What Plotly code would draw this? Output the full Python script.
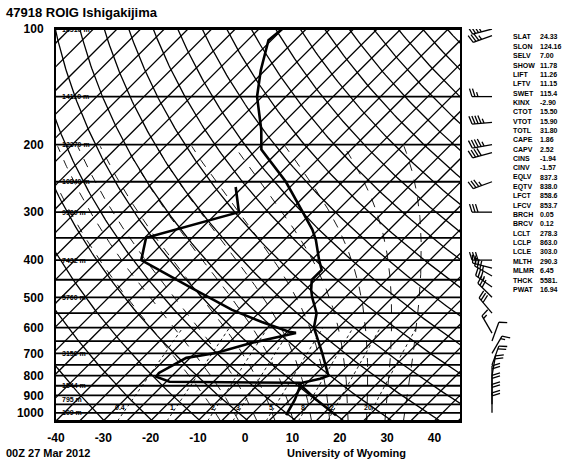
import numpy as np
import plotly.graph_objects as go

# ---------------- data ----------------
station_title = "47918 ROIG Ishigakijima"
date_text = "00Z 27 Mar 2012"
credit_text = "University of Wyoming"

temp_p = [1015, 1000, 925, 850, 838, 815, 800, 700, 650, 600, 550, 500, 478, 450, 424, 400,
          354, 333, 300, 250, 206, 183, 150, 128, 107, 100]
temp_c = [18.0, 16.8, 10.6, 4.4, 3.4, 6.9, 8.0, 2.0, -1.5, -5.2, -7.7, -12.0, -13.8, -15.8, -15.8, -18.4,
          -23.4, -26.3, -32.0, -42.0, -54.0, -58.2, -66.1, -70.9, -75.6, -75.1]

dew_p = [1015, 1000, 925, 870, 850, 838, 835, 830, 805, 787, 719, 698, 657, 619, 615, 580, 539,
         473, 405, 400, 350, 300, 258]
dew_c = [7.5, 7.2, 6.0, 4.8, 4.2, 3.4, 3.3, -24.3, -28.2, -28.4, -25.8, -20.6, -15.1, -7.9, -9.6, -17.4, -26.3,
         -39.4, -54.6, -56.0, -59.7, -45.5, -51.5]

wind_p = [100, 104, 150, 175, 200, 210, 250, 300, 400, 420, 440, 470, 500, 550, 620, 650, 700, 750,
          800, 850, 900, 950, 1000]
wind_dir = [255, 250, 270, 265, 260, 255, 250, 270, 270, 285, 300, 305, 315, 320, 330, 20, 30, 20,
            10, 360, 360, 360, 360]
wind_kt = [35, 35, 25, 45, 45, 40, 35, 30, 30, 25, 35, 35, 30, 30, 15, 10, 15, 20, 20, 20, 20, 20, 20]

p_ticks = [100, 200, 300, 400, 500, 600, 700, 800, 900, 1000]
t_ticks = [-40, -30, -20, -10, 0, 10, 20, 30, 40]

height_p = [100, 150, 200, 250, 300, 400, 500, 700, 850, 925, 1000]
height_lbl = ["16510 m", "14110 m", "12370 m", "10840 m", "9580 m", "7432 m", "5760 m", "3150 m",
              "1544 m", "795 m", "109 m"]

mix_ratios = [0.4, 1, 2, 3, 5, 8, 12, 20]
mix_lbl = ["0.4", "1", "2", "3", "5", "8", "12", "20"]

stat_names = ["SLAT", "SLON", "SELV", "SHOW", "LIFT", "LFTV", "SWET", "KINX", "CTOT", "VTOT", "TOTL",
              "CAPE", "CAPV", "CINS", "CINV", "EQLV", "EQTV", "LFCT", "LFCV", "BRCH", "BRCV", "LCLT",
              "LCLP", "LCLE", "MLTH", "MLMR", "THCK", "PWAT"]
stat_vals = ["24.33", "124.16", "7.00", "11.78", "11.26", "11.15", "115.4", "-2.90", "15.50", "15.90",
             "31.80", "1.86", "2.52", "-1.94", "-1.57", "837.3", "838.0", "858.6", "853.7", "0.05",
             "0.12", "278.3", "863.0", "303.0", "290.3", "6.45", "5581.", "16.94"]

# ---------------- geometry ----------------
W, H = 585, 464
ML, MT = 56, 29
PLOT_W = 404           # px of the skew-T box
P_TOP, P_BOT = 100.0, 1050.0
PX_DEC = 384.0         # px per pressure decade
PLOT_H = PX_DEC * (np.log10(P_BOT) - np.log10(P_TOP))
MB = H - MT - PLOT_H
PX_C = 4.73            # px per deg C
X_MIN = -40.0
X_MAX = X_MIN + PLOT_W / PX_C
SKEW = PX_DEC / PX_C   # deg C per decade -> 45 deg isotherms
AREA_W = W - ML

def skew_x(t, p):
    return np.asarray(t, float) + SKEW * (np.log10(P_BOT) - np.log10(np.asarray(p, float)))

def px_x(px):
    return (px - ML) / AREA_W

def px_y(py):
    return 1 - (py - MT) / PLOT_H

fig = go.Figure()

# isobars
xs, ys = [], []
for p in range(100, 1051, 50):
    xs += [X_MIN, X_MAX, None]
    ys += [p, p, None]
fig.add_trace(go.Scatter(x=xs, y=ys, mode="lines", line=dict(color="black", width=1.8),
                         hoverinfo="skip", showlegend=False))

pp = np.logspace(np.log10(P_BOT), np.log10(P_TOP), 120)

# isotherms
xs, ys = [], []
for t in range(-160, 60, 5):
    xs += [t, t + SKEW * (np.log10(P_BOT) - 2), None]
    ys += [P_BOT, P_TOP, None]
fig.add_trace(go.Scatter(x=xs, y=ys, mode="lines", line=dict(color="black", width=1.3),
                         hoverinfo="skip", showlegend=False))

# dry adiabats
xs, ys = [], []
for th in range(230, 500, 10):
    tt = th * (pp / 1000.0) ** 0.286 - 273.15
    xs += list(skew_x(tt, pp)) + [None]
    ys += list(pp) + [None]
fig.add_trace(go.Scatter(x=xs, y=ys, mode="lines", line=dict(color="black", width=1.3),
                         hoverinfo="skip", showlegend=False))

# moist adiabats
def moist_profile(tw):
    Rd, cp, Lv, eps = 287.04, 1005.7, 2.501e6, 0.622

    def dTdp(Tk, p):
        es = 6.112 * np.exp(17.67 * (Tk - 273.15) / (Tk - 29.65))
        rs = eps * es / (p - es)
        return (Rd * Tk + Lv * rs) / (p * (cp + Lv * Lv * rs * eps / (Rd * Tk * Tk)))
    Tk = tw + 273.15
    p = 1000.0
    while p < P_BOT:
        Tk += dTdp(Tk, p) * 2.0
        p += 2.0
    p = P_BOT
    res_p, res_t = [], []
    while p > 200:
        res_p.append(p)
        res_t.append(Tk - 273.15)
        Tk -= dTdp(Tk, p) * 2.0
        p -= 2.0
    return np.array(res_p), np.array(res_t)

xs, ys = [], []
for tw in range(-8, 36, 4):
    mp, mt = moist_profile(tw)
    xs += list(skew_x(mt, mp)) + [None]
    ys += list(mp) + [None]
fig.add_trace(go.Scatter(x=xs, y=ys, mode="lines", line=dict(color="black", width=0.9, dash="dash"),
                         hoverinfo="skip", showlegend=False))

# mixing ratio lines
xs, ys = [], []
mp = np.linspace(P_BOT, 600, 40)
for w in mix_ratios:
    e = w * mp / (622.0 + w)
    td = 243.5 * np.log(e / 6.112) / (17.67 - np.log(e / 6.112))
    xs += list(skew_x(td, mp)) + [None]
    ys += list(mp) + [None]
fig.add_trace(go.Scatter(x=xs, y=ys, mode="lines", line=dict(color="black", width=0.9, dash="dot"),
                         hoverinfo="skip", showlegend=False))

# sounding
fig.add_trace(go.Scatter(x=skew_x(temp_c, temp_p), y=temp_p, mode="lines",
                         line=dict(color="black", width=2.6), showlegend=False))
fig.add_trace(go.Scatter(x=skew_x(dew_c, dew_p), y=dew_p, mode="lines",
                         line=dict(color="black", width=2.6), showlegend=False))

# wind barbs (xaxis2 in page-pixel units, shared log-pressure axis)
X0 = 492.0
def to_p(p, dy):
    return p * 10 ** (dy / PX_DEC)

bx, by = [], []
for p, d, s in zip(wind_p, wind_dir, wind_kt):
    r = np.deg2rad(d)
    u = np.array([np.sin(r), -np.cos(r)])
    f = np.array([np.cos(r), np.sin(r)])
    L = 20.0
    tip = u * L
    bx += [X0, X0 + tip[0], None]
    by += [p, to_p(p, tip[1]), None]
    spd = int(round(s / 5.0)) * 5
    pos = L
    while spd >= 10:
        base = u * pos
        end = base + f * 8 + u * 2.5
        bx += [X0 + base[0], X0 + end[0], None]
        by += [to_p(p, base[1]), to_p(p, end[1]), None]
        pos -= 3.0
        spd -= 10
    if spd >= 5:
        base = u * pos
        end = base + f * 4.5 + u * 1.4
        bx += [X0 + base[0], X0 + end[0], None]
        by += [to_p(p, base[1]), to_p(p, end[1]), None]
fig.add_trace(go.Scatter(x=bx, y=by, xaxis="x2", yaxis="y", mode="lines",
                         line=dict(color="black", width=1.3), hoverinfo="skip", showlegend=False))

# ---------------- annotations ----------------
FONT = "Liberation Sans"
ann = []
for p, lbl in zip(height_p, height_lbl):
    ann.append(dict(x=X_MIN + 0.8, y=np.log10(p), xref="x", yref="y", text=lbl, showarrow=False,
                    xanchor="left", yanchor="middle",
                    font=dict(family=FONT, size=7, color="black", weight="bold")))
for w, lbl in zip(mix_ratios, mix_lbl):
    e = w * 1000.0 / (622.0 + w)
    td = 243.5 * np.log(e / 6.112) / (17.67 - np.log(e / 6.112))
    ann.append(dict(x=float(skew_x(td, 1000.0)) + 0.8, y=np.log10(1000.0), xref="x", yref="y", text=lbl,
                    showarrow=False, xanchor="right", yanchor="bottom",
                    font=dict(family=FONT, size=7, color="black", weight="bold")))

ann.append(dict(x=px_x(4), y=px_y(12), xref="paper", yref="paper",
                text=station_title, showarrow=False, xanchor="left", yanchor="middle",
                font=dict(family=FONT, size=13, color="black", weight="bold")))
ann.append(dict(x=px_x(4), y=px_y(453), xref="paper", yref="paper",
                text=date_text, showarrow=False, xanchor="left", yanchor="middle",
                font=dict(family=FONT, size=11, color="black", weight="bold")))
ann.append(dict(x=px_x(346), y=px_y(453), xref="paper", yref="paper",
                text=credit_text, showarrow=False, xanchor="center", yanchor="middle",
                font=dict(family=FONT, size=11, color="black", weight="bold")))

for i, (n, v) in enumerate(zip(stat_names, stat_vals)):
    py = 37 + i * 9.35
    ann.append(dict(x=px_x(511), y=px_y(py), xref="paper", yref="paper", text=n, showarrow=False,
                    xanchor="left", yanchor="middle",
                    font=dict(family=FONT, size=7, color="black", weight="bold")))
    ann.append(dict(x=px_x(538), y=px_y(py), xref="paper", yref="paper", text=v, showarrow=False,
                    xanchor="left", yanchor="middle",
                    font=dict(family=FONT, size=7, color="black", weight="bold")))

fig.update_layout(
    width=W, height=H,
    margin=dict(l=ML, r=0, t=MT, b=MB, pad=0),
    paper_bgcolor="white", plot_bgcolor="white",
    showlegend=False,
    annotations=ann,
    xaxis=dict(domain=[0, PLOT_W / AREA_W], range=[X_MIN, X_MAX], showgrid=False, zeroline=False,
               tickvals=t_ticks, ticktext=[str(t) for t in t_ticks], ticks="", ticklabelstandoff=5,
               tickfont=dict(family=FONT, size=12, color="black", weight="bold"),
               showline=True, linecolor="black", linewidth=2, mirror=True),
    xaxis2=dict(domain=[PLOT_W / AREA_W, (PLOT_W + 60) / AREA_W], range=[ML + PLOT_W, ML + PLOT_W + 60],
                anchor="y", showgrid=False, zeroline=False, showticklabels=False, showline=False),
    yaxis=dict(type="log", range=[np.log10(P_BOT), np.log10(P_TOP)], showgrid=False, zeroline=False,
               tickvals=p_ticks, ticktext=[str(p) for p in p_ticks], ticks="", ticklabelstandoff=8,
               tickfont=dict(family=FONT, size=12, color="black", weight="bold"),
               showline=True, linecolor="black", linewidth=2, mirror=True),
)

fig.write_html("out.html", config={"displayModeBar": False},
               post_script="document.body.style.margin='0';document.body.style.overflow='hidden';")
